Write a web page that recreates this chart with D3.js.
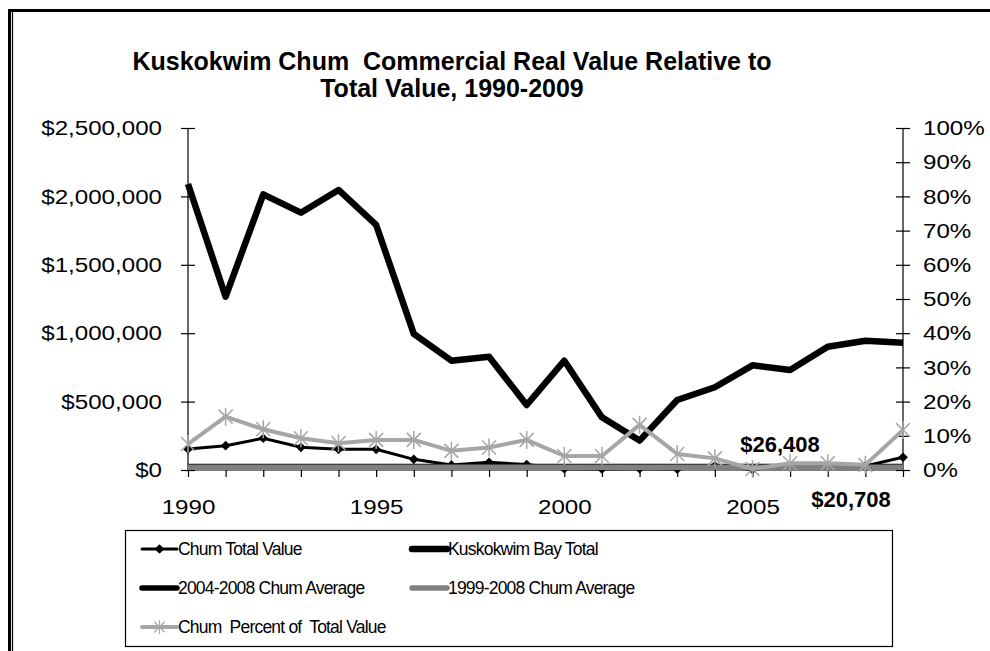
<!DOCTYPE html>
<html>
<head>
<meta charset="utf-8">
<script src="https://cdn.jsdelivr.net/npm/d3@7"></script>
<style>
  html, body { margin: 0; padding: 0; background: #fff; }
  svg { display: block; font-family: "Liberation Sans", Arial, sans-serif; }
</style>
</head>
<body>
<svg id="chart" width="990" height="651"></svg>
<script>
// Kuskokwim chum commercial value, 1990-2009
const years = [1990, 1991, 1992, 1993, 1994, 1995, 1996, 1997, 1998, 1999,
               2000, 2001, 2002, 2003, 2004, 2005, 2006, 2007, 2008, 2009];
const chumTotal = [153000, 178000, 232000, 166000, 151000, 151000, 78000, 37000, 56000, 40000,
                   9000, 7000, 10000, 7040, 30000, 4000, 32000, 36000, 30040, 93000];
const bayTotal = [2090000, 1267000, 2015000, 1881000, 2047000, 1791000, 995000, 799000, 828000, 475000,
                  799000, 385000, 215000, 512000, 605000, 765000, 731000, 901000, 945000, 931000];
const chumPercent = [0.076, 0.156, 0.119, 0.093, 0.078, 0.088, 0.088, 0.056, 0.066, 0.088,
                     0.041, 0.041, 0.132, 0.047, 0.034, 0.003, 0.020, 0.020, 0.015, 0.117];
const avg2004to2008 = 26408;
const avg1999to2008 = 20708;
const leftTicks = [0, 500000, 1000000, 1500000, 2000000, 2500000];
const rightTicks = [0, 0.1, 0.2, 0.3, 0.4, 0.5, 0.6, 0.7, 0.8, 0.9, 1.0];
const labeledYears = [1990, 1995, 2000, 2005];
const titleLines = ["Kuskokwim Chum  Commercial Real Value Relative to", "Total Value, 1990-2009"];
const legendItems = [
  { label: "Chum Total Value", key: "chum" },
  { label: "Kuskokwim Bay Total", key: "bay" },
  { label: "2004-2008 Chum Average", key: "avg5" },
  { label: "1999-2008 Chum Average", key: "avg10" },
  { label: "Chum  Percent of  Total Value", key: "pct" }
];

const styles = {
  chum:  { stroke: "#000", width: 3, marker: "diamond" },
  bay:   { stroke: "#000", width: 6.5, marker: null },
  avg5:  { stroke: "#000", width: 5.5, marker: null },
  avg10: { stroke: "#808080", width: 5.5, marker: null },
  pct:   { stroke: "#a6a6a6", width: 4, marker: "star" }
};

// tick labels are drawn in a slightly wide face
const tickWiden = 1.15;

const svg = d3.select("#chart");

// outer frame
svg.append("line").attr("x1", 8).attr("x2", 990).attr("y1", 10.5).attr("y2", 10.5)
  .attr("stroke", "#000").attr("stroke-width", 3);
svg.append("line").attr("x1", 9.5).attr("x2", 9.5).attr("y1", 9).attr("y2", 651)
  .attr("stroke", "#000").attr("stroke-width", 3);
svg.append("line").attr("x1", 12.5).attr("x2", 12.5).attr("y1", 12).attr("y2", 651)
  .attr("stroke", "#000").attr("stroke-width", 1.2);

// title
svg.append("g").selectAll("text").data(titleLines).join("text")
  .attr("x", 452).attr("y", (d, i) => 70 + i * 27)
  .attr("text-anchor", "middle")
  .attr("font-size", 25).attr("font-weight", "bold")
  .style("white-space", "pre")
  .text(d => d);

const plot = { left: 188, right: 903, top: 128, bottom: 470 };

const x = d3.scalePoint().domain(years).range([plot.left, plot.right]);
const yL = d3.scaleLinear().domain([0, 2500000]).range([plot.bottom, plot.top]);
const yR = d3.scaleLinear().domain([0, 1]).range([plot.bottom, plot.top]);

// left axis with crossing ticks
const gL = svg.append("g").attr("transform", `translate(${plot.left},0)`)
  .call(d3.axisLeft(yL).tickValues(leftTicks).tickFormat(d3.format("$,")).tickSize(7).tickPadding(19));
gL.selectAll(".tick line").attr("x1", 7);
gL.select(".domain").attr("d", `M0,${plot.top}V${plot.bottom}`);

// right axis with crossing ticks
const gR = svg.append("g").attr("transform", `translate(${plot.right},0)`)
  .call(d3.axisRight(yR).tickValues(rightTicks).tickFormat(d3.format(".0%")).tickSize(7).tickPadding(13));
gR.selectAll(".tick line").attr("x1", -7);
gR.select(".domain").attr("d", `M0,${plot.top}V${plot.bottom}`);

// bottom axis
const gX = svg.append("g").attr("transform", `translate(0,${plot.bottom})`)
  .call(d3.axisBottom(x).tickSize(7).tickPadding(22)
    .tickFormat(d => labeledYears.includes(d) ? String(d) : ""));
gX.select(".domain").attr("d", `M${plot.left},0H${plot.right}`);

[gL, gR, gX].forEach(g => {
  g.selectAll("text").attr("font-size", 21).attr("fill", "#000")
    .attr("font-family", "Liberation Sans, Arial, sans-serif");
  g.selectAll("line, path").attr("stroke", "#000").attr("stroke-width", 1.2);
});
// widen the vertical-axis labels around their anchor point
[gL, gR].forEach(g => {
  g.selectAll(".tick text").each(function () {
    const t = d3.select(this);
    const tx = +t.attr("x");
    t.attr("x", 0).attr("transform", `translate(${tx},0) scale(${tickWiden},1)`);
  });
});
gX.selectAll(".tick text").attr("transform", `scale(${tickWiden},1)`);

const lineL = d3.line().x((d, i) => x(years[i])).y(d => yL(d));
const lineR = d3.line().x((d, i) => x(years[i])).y(d => yR(d));

const series = svg.append("g");

// Kuskokwim Bay total
series.append("path").datum(bayTotal).attr("d", lineL)
  .attr("fill", "none").attr("stroke", styles.bay.stroke).attr("stroke-width", styles.bay.width)
  .attr("stroke-linejoin", "round");

// Chum total with diamonds
series.append("path").datum(chumTotal).attr("d", lineL)
  .attr("fill", "none").attr("stroke", styles.chum.stroke).attr("stroke-width", styles.chum.width);
const diamond = d3.symbol().type(d3.symbolDiamond2).size(60);
series.append("g").selectAll("path").data(chumTotal).join("path")
  .attr("transform", (d, i) => `translate(${x(years[i])},${yL(d)})`)
  .attr("d", diamond).attr("fill", "#000");

// averages
series.append("path").datum(years.map(() => avg2004to2008)).attr("d", lineL)
  .attr("fill", "none").attr("stroke", styles.avg5.stroke).attr("stroke-width", styles.avg5.width);
series.append("path").datum(years.map(() => avg1999to2008)).attr("d", lineL)
  .attr("fill", "none").attr("stroke", styles.avg10.stroke).attr("stroke-width", styles.avg10.width);

// chum percent of total value with asterisks
series.append("path").datum(chumPercent).attr("d", lineR)
  .attr("fill", "none").attr("stroke", styles.pct.stroke).attr("stroke-width", styles.pct.width)
  .attr("stroke-linejoin", "round");
const star = "M-7,-7L7,7M-7,7L7,-7M0,-9V9";
series.append("g").selectAll("path").data(chumPercent).join("path")
  .attr("transform", (d, i) => `translate(${x(years[i])},${yR(d)})`)
  .attr("d", star).attr("stroke", styles.pct.stroke).attr("stroke-width", 1.5).attr("fill", "none");

// average value labels
svg.append("text").attr("x", 780).attr("y", 452).attr("text-anchor", "middle")
  .attr("font-size", 22).attr("font-weight", "bold")
  .text(d3.format("$,")(avg2004to2008));
svg.append("text").attr("x", 851).attr("y", 507).attr("text-anchor", "middle")
  .attr("font-size", 22).attr("font-weight", "bold")
  .text(d3.format("$,")(avg1999to2008));

// legend
const legend = svg.append("g");
legend.append("rect").attr("x", 125.5).attr("y", 530.5).attr("width", 767).attr("height", 116)
  .attr("fill", "#fff").attr("stroke", "#000").attr("stroke-width", 1.2);
const cols = [142, 412];
const rows = [549, 588, 627];
legendItems.forEach((item, i) => {
  const lx = cols[i % 2], ly = rows[Math.floor(i / 2)];
  const s = styles[item.key];
  const g = legend.append("g").attr("transform", `translate(${lx},${ly})`);
  g.append("line").attr("x1", 0).attr("x2", 35).attr("y1", 0).attr("y2", 0)
    .attr("stroke", s.stroke).attr("stroke-width", s.width).attr("stroke-linecap", "round");
  if (s.marker === "diamond") {
    g.append("path").attr("transform", "translate(17.5,0)").attr("d", diamond).attr("fill", "#000");
  } else if (s.marker === "star") {
    g.append("path").attr("transform", "translate(17.5,0) scale(0.75)").attr("d", star)
      .attr("stroke", s.stroke).attr("stroke-width", 1.5);
  }
  g.append("text").attr("x", 36).attr("y", 6)
    .attr("font-size", 17.5).attr("letter-spacing", -0.8)
    .style("white-space", "pre")
    .text(item.label);
});
</script>
</body>
</html>
